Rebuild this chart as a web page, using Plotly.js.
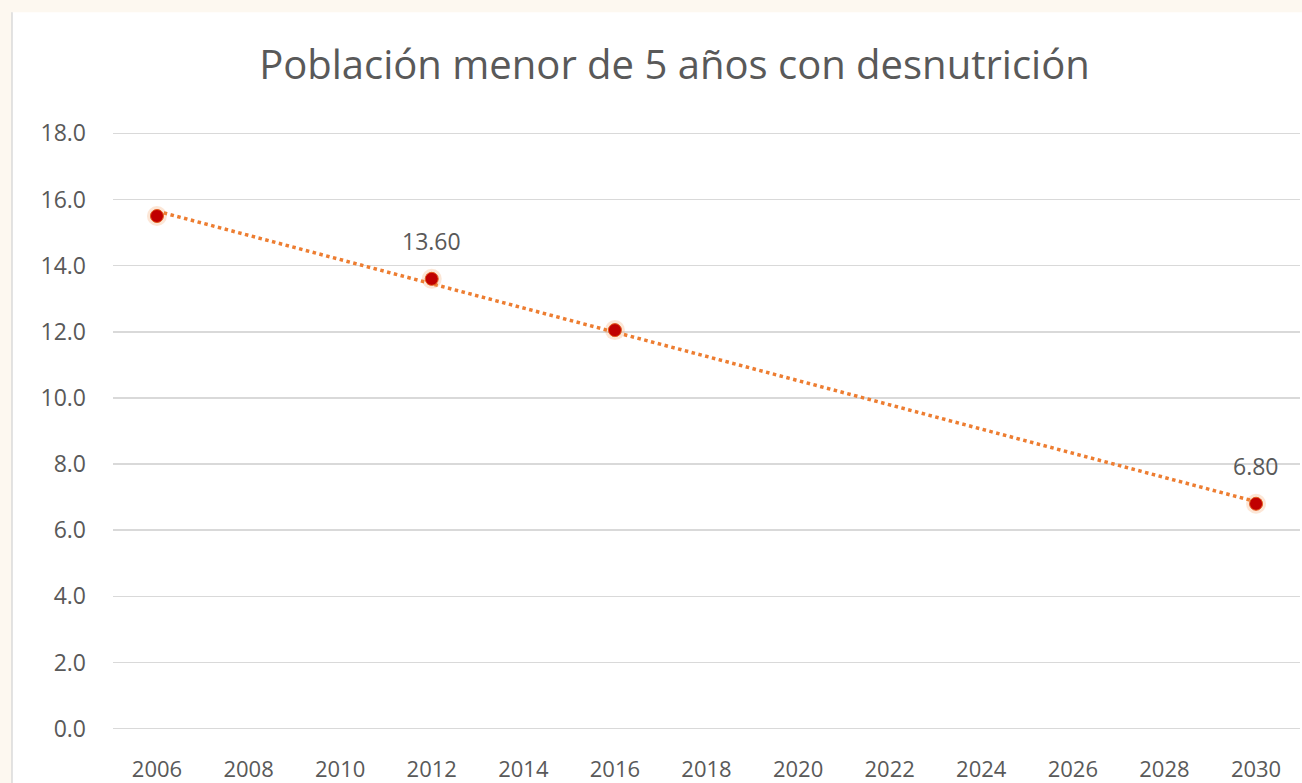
<!DOCTYPE html>
<html>
<head>
<meta charset="utf-8">
<script src="https://cdn.plot.ly/plotly-3.0.1.min.js"></script>
<style>html,body{margin:0;padding:0;background:#fff;}#chart{width:1302px;height:783px;}</style>
</head>
<body>
<div id="chart"></div>
<script>
const years = [2006, 2012, 2016, 2030];
const values = [15.5, 13.6, 12.05, 6.8];
const labelYears = [2012, 2030];
const xTicks = [2006, 2008, 2010, 2012, 2014, 2016, 2018, 2020, 2022, 2024, 2026, 2028, 2030];
const yTicks = [0, 2, 4, 6, 8, 10, 12, 14, 16, 18];
const titleText = 'Población menor de 5 años con desnutrición';

// linear trendline (least squares) from the data
const n = years.length;
const mx = years.reduce((a, b) => a + b, 0) / n;
const my = values.reduce((a, b) => a + b, 0) / n;
let sxy = 0, sxx = 0;
for (let i = 0; i < n; i++) { sxy += (years[i] - mx) * (values[i] - my); sxx += (years[i] - mx) ** 2; }
const slope = sxy / sxx;
const icpt = my - slope * mx;
const trendX = [years[0], years[n - 1]];
const trendY = trendX.map(x => icpt + slope * x);

const FONT = 'Open Sans, Noto Sans, sans-serif';
const GRAY = '#595959';

const traces = [
  { x: trendX, y: trendY, mode: 'lines', line: { color: '#ed7d31', width: 3.5, dash: 'dot' }, hoverinfo: 'skip', showlegend: false },
  { x: years, y: values, mode: 'markers', marker: { size: 20, color: 'rgba(240,140,70,0.22)' }, hoverinfo: 'skip', showlegend: false },
  { x: years, y: values, mode: 'markers', marker: { size: 13, color: '#c00000', line: { color: '#e25a1c', width: 1 } }, showlegend: false }
];

const annotations = labelYears.map(yr => {
  const v = values[years.indexOf(yr)];
  return { x: yr, y: v, xref: 'x', yref: 'y', text: v.toFixed(2), showarrow: false, yshift: 38,
           font: { family: FONT, size: 23, color: GRAY } };
});

const layout = {
  width: 1302, height: 783,
  margin: { l: 113, r: 2, t: 130, b: 51 },
  paper_bgcolor: '#ffffff', plot_bgcolor: '#ffffff',
  title: { text: titleText, x: 0.518, xref: 'container', xanchor: 'center', y: 0.917, yref: 'container', yanchor: 'middle',
           font: { family: FONT, size: 40, color: GRAY } },
  xaxis: { range: [2005.04, 2030.96], tickvals: xTicks, ticktext: xTicks.map(String), showgrid: false, zeroline: false,
           showline: false, ticks: '', ticklabelstandoff: 22, tickfont: { family: FONT, size: 22, color: GRAY } },
  yaxis: { range: [-0.1, 18.1], tickvals: yTicks, ticktext: yTicks.map(v => v.toFixed(1)), showgrid: true, gridcolor: '#d9d9d9',
           gridwidth: 1.5, zeroline: false, showline: false, ticks: '', ticklabelstandoff: 26,
           tickfont: { family: FONT, size: 23, color: GRAY } },
  annotations: annotations,
  shapes: [
    { type: 'rect', xref: 'paper', yref: 'paper', x0: -0.0952, x1: -0.0851, y0: -0.085, y1: 1.217, fillcolor: '#fdf8f0', line: { width: 0 }, layer: 'below' },
    { type: 'rect', xref: 'paper', yref: 'paper', x0: -0.0952, x1: 1.002, y0: 1.1955, y1: 1.217, fillcolor: '#fdf8f0', line: { width: 0 }, layer: 'below' },
    { type: 'line', xref: 'paper', yref: 'paper', x0: -0.0851, x1: -0.0851, y0: -0.085, y1: 1.1955, line: { color: '#d9d9d9', width: 1.5 } }
  ],
  showlegend: false
};

Plotly.newPlot('chart', traces, layout, { displayModeBar: false, staticPlot: true });
</script>
</body>
</html>
